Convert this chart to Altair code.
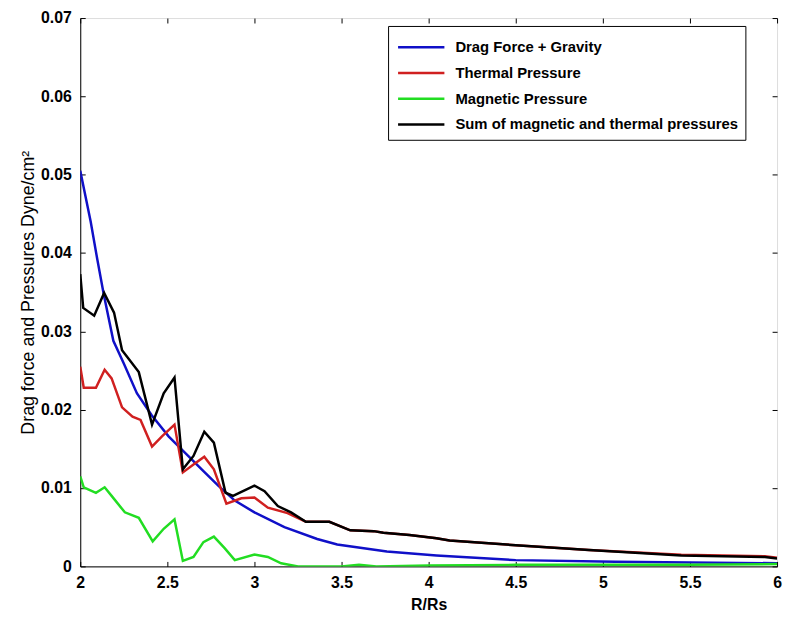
import altair as alt
import pandas as pd

# ---- data ----
drag_x = [2.0, 2.06, 2.097, 2.135, 2.19, 2.25, 2.325, 2.41, 2.507, 2.602, 2.697, 2.792,
          2.887, 3.0, 3.172, 3.36, 3.475, 3.76, 4.045, 4.5, 5.07, 6.0]
drag_y = [0.0505, 0.0440, 0.0393, 0.0347, 0.0288, 0.0259, 0.0221, 0.0193, 0.0166, 0.0145,
          0.0124, 0.0103, 0.0084, 0.0069, 0.0050, 0.0035, 0.0028, 0.0019, 0.0014, 0.0008,
          0.0006, 0.0004]

thermal_x = [2.0, 2.02, 2.09, 2.14, 2.18, 2.24, 2.30, 2.346, 2.412, 2.469, 2.541, 2.589,
             2.65, 2.712, 2.767, 2.839, 2.925, 3.0, 3.077, 3.19, 3.295, 3.43, 3.55, 3.685,
             3.74, 3.89, 4.045, 4.12, 4.5, 4.92, 5.45, 5.93, 6.0]
thermal_y = [0.0255, 0.0228, 0.0228, 0.0251, 0.0240, 0.0203, 0.0191, 0.0187, 0.0153, 0.0166,
             0.0181, 0.0120, 0.0130, 0.0140, 0.0124, 0.0080, 0.0087, 0.0088, 0.0075, 0.0068,
             0.0057, 0.0057, 0.0046, 0.0045, 0.0043, 0.0040, 0.0036, 0.0033, 0.0027, 0.0021,
             0.0015, 0.0013, 0.0011]

magnetic_x = [2.0, 2.02, 2.09, 2.14, 2.18, 2.256, 2.336, 2.416, 2.479, 2.541, 2.589, 2.65,
              2.707, 2.767, 2.83, 2.887, 3.0, 3.077, 3.153, 3.25, 3.5, 3.6, 3.7, 4.0, 4.5,
              5.0, 5.5, 6.0]
magnetic_y = [0.0115, 0.0101, 0.0094, 0.0101, 0.0090, 0.0069, 0.0062, 0.0032, 0.0048, 0.0060,
              0.0007, 0.0012, 0.0031, 0.0038, 0.0023, 0.0008, 0.0015, 0.0012, 0.0004, 0.0000,
              0.0000, 0.0002, 0.0000, 0.0001, 0.0002, 0.0002, 0.0002, 0.0003]

sum_x = [2.0, 2.017, 2.08, 2.137, 2.194, 2.24, 2.336, 2.412, 2.479, 2.541, 2.589, 2.65,
         2.712, 2.767, 2.834, 2.877, 3.0, 3.058, 3.134, 3.21, 3.295, 3.43, 3.55, 3.685,
         3.74, 3.89, 4.045, 4.12, 4.5, 4.92, 5.45, 5.93, 6.0]
sum_y = [0.0373, 0.0330, 0.0320, 0.0349, 0.0324, 0.0276, 0.0248, 0.0181, 0.0221, 0.0241,
         0.0124, 0.0141, 0.0172, 0.0158, 0.0094, 0.0090, 0.0103, 0.0096, 0.0077, 0.0069,
         0.0057, 0.0057, 0.0046, 0.0045, 0.0043, 0.0040, 0.0036, 0.0033, 0.0027, 0.0021,
         0.0014, 0.0012, 0.0010]

series_names = ["Drag Force + Gravity", "\u00a0Thermal Pressure", "Magnetic Pressure",
                "Sum of magnetic and thermal pressures"]
series_colors = ["#1010c8", "#d02020", "#22dd22", "#000000"]

x_ticks = [2, 2.5, 3, 3.5, 4, 4.5, 5, 5.5, 6]
y_ticks = [0, 0.01, 0.02, 0.03, 0.04, 0.05, 0.06, 0.07]

rows = []
for name, xs, ys in zip(series_names,
                        [drag_x, thermal_x, magnetic_x, sum_x],
                        [drag_y, thermal_y, magnetic_y, sum_y]):
    for i, (a, b) in enumerate(zip(xs, ys)):
        rows.append({"series": name, "r": a, "v": b, "order": i})
df = pd.DataFrame(rows)

FONT = "Liberation Sans"

xscale = alt.Scale(domain=[2, 6], nice=False, zero=False)
yscale = alt.Scale(domain=[0, 0.07], nice=False)

lines = alt.Chart(df).mark_line(strokeWidth=2.5, clip=True).encode(
    x=alt.X("r:Q", scale=xscale,
            axis=alt.Axis(values=x_ticks, format="~g", title="R/Rs", grid=False,
                          tickSize={"expr": "-5"}, labelPadding=13, titlePadding=7,
                          labelFont=FONT, labelFontSize=16, labelFontWeight="bold",
                          labelColor="black", titleFont=FONT, titleFontSize=16,
                          titleFontWeight="bold", titleColor="black",
                          domainColor="black", tickColor="black", labelFlush=False)),
    y=alt.Y("v:Q", scale=yscale,
            axis=alt.Axis(values=y_ticks,
                          labelExpr="datum.value == 0 ? '0' : format(datum.value, '.2f')",
                          title="Drag force and Pressures Dyne/cm\u00b2", grid=False,
                          tickSize={"expr": "-5"}, labelPadding=14, titlePadding=3,
                          labelFont=FONT, labelFontSize=16, labelFontWeight="bold",
                          labelColor="black", titleFont=FONT, titleFontSize=18,
                          titleFontWeight="normal", titleColor="black",
                          domainColor="black", tickColor="black", labelFlush=False)),
    color=alt.Color("series:N",
                    scale=alt.Scale(domain=series_names, range=series_colors),
                    sort=series_names,
                    legend=alt.Legend(title=None, orient="none", legendX=311, legendY=8,
                                      strokeColor="black", fillColor="white", padding=7,
                                      symbolType="M-1.8,0H1.8", symbolSize=676,
                                      symbolStrokeWidth=2.5, symbolOffset=12,
                                      labelOffset=20, labelFont=FONT, labelFontSize=15,
                                      labelFontWeight="bold", labelColor="black",
                                      labelLimit=0, rowPadding=3, cornerRadius=0)),
    order="order:Q",
)

frame_axes = alt.Chart(df).mark_point(opacity=0).encode(
    x=alt.X("r:Q", scale=xscale,
            axis=alt.Axis(orient="top", values=x_ticks, labels=False, title=None,
                          domain=False, grid=False, tickSize={"expr": "-5"},
                          tickColor="black")),
    y=alt.Y("v:Q", scale=yscale,
            axis=alt.Axis(orient="right", values=y_ticks, labels=False, title=None,
                          domain=False, grid=False, tickSize={"expr": "-5"},
                          tickColor="black")),
)

chart = alt.layer(lines, frame_axes).resolve_axis(
    x="independent", y="independent"
).properties(
    width=704, height=554,
    autosize=alt.AutoSizeParams(type="none"),
    padding={"left": 73, "top": 7, "right": 6, "bottom": 50},
).configure_view(stroke="black", strokeWidth=1).configure(background="white")

chart.save("out.html", embed_options={"renderer": "svg", "actions": False})
